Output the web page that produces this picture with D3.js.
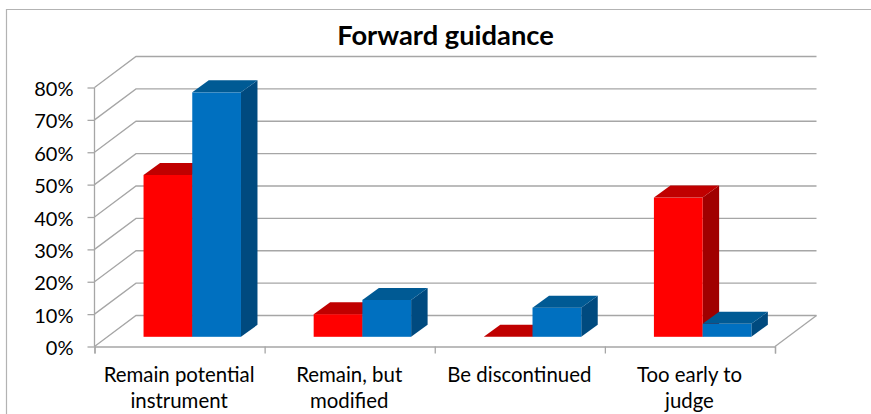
<!DOCTYPE html>
<html>
<head>
<meta charset="utf-8">
<script src="https://cdn.jsdelivr.net/npm/d3@7"></script>
<style>
  html, body { margin: 0; padding: 0; background: #fff; }
  text { font-family: Lato, "Open Sans", sans-serif; fill: #000; }
</style>
</head>
<body>
<div id="chart"></div>
<script>
const categories = [
  ['Remain potential', 'instrument'],
  ['Remain, but', 'modified'],
  ['Be discontinued'],
  ['Too early to', 'judge'],
];
const seriesNames = ['red', 'blue'];
const redValues = [0.5, 0.07, 0, 0.43];
const blueValues = [0.755, 0.114, 0.09, 0.04];
const yTicks = [0, 0.1, 0.2, 0.3, 0.4, 0.5, 0.6, 0.7, 0.8];

const width = 871,
  height = 414;
const margin = { top: 87.5, right: 96, bottom: 67.5, left: 94.5 };

// offset of the back wall from the front of the box
const wall = { dx: 41.5, dy: -31 };
// the bars stand part way into the floor
const barDepth = { dx: 16.5, dy: -12 };
const barShift = -9.7;

const faces = {
  red: { front: '#ff0000', top: '#c00000', side: '#a00000' },
  blue: { front: '#0070c0', top: '#005a94', side: '#004a7f' },
};

const svg = d3
  .select('#chart')
  .append('svg')
  .attr('width', width)
  .attr('height', height)
  .style('display', 'block');

// outer frame, runs off the right and bottom
svg
  .append('path')
  .attr('d', 'M6.5,' + height + 'V9.5H' + width)
  .attr('fill', 'none')
  .attr('stroke', '#b3b3b3')
  .attr('stroke-width', 1.2);

const x = d3
  .scaleBand()
  .domain(d3.range(categories.length))
  .range([margin.left, width - margin.right]);

const y = d3
  .scaleLinear()
  .domain([0, 0.8])
  .range([height - margin.bottom, margin.top]);

// two bars side by side, pushed right of the band centre because of the depth
const inner = d3
  .scaleBand()
  .domain(seriesNames)
  .range([12.7, x.bandwidth() + 12.7])
  .paddingOuter(0.746)
  .paddingInner(0);

const gridColor = '#a6a6a6';
const grid = svg.append('g').attr('fill', 'none').attr('stroke', gridColor).attr('stroke-width', 1.3);

// back wall lines and the diagonals on the side wall
grid
  .selectAll('.back')
  .data(yTicks)
  .enter()
  .append('path')
  .attr('class', 'back')
  .attr('d', d => {
    const x0 = margin.left + wall.dx;
    const x1 = width - margin.right + wall.dx;
    const yb = y(d) + wall.dy;
    return 'M' + margin.left + ',' + y(d) + 'L' + x0 + ',' + yb + 'H' + x1;
  });

// right edge of the floor
grid
  .append('path')
  .attr('d', 'M' + (width - margin.right) + ',' + y(0) + 'l' + wall.dx + ',' + wall.dy);

// y axis
const yAxis = svg
  .append('g')
  .attr('transform', 'translate(' + margin.left + ',0)')
  .call(d3.axisLeft(y).tickValues(yTicks).tickFormat(d3.format('.0%')).tickSize(7).tickPadding(14));

// x axis, ticks sit at the band edges so labels are added apart
const xAxis = svg
  .append('g')
  .attr('transform', 'translate(0,' + y(0) + ')')
  .call(
    d3
      .axisBottom(d3.scaleLinear().domain([0, 4]).range(x.range()))
      .tickValues([0, 1, 2, 3, 4])
      .tickFormat('')
      .tickSize(7)
      .tickSizeOuter(7)
  );

[yAxis, xAxis].forEach(a => {
  a.selectAll('path, line').attr('stroke', gridColor).attr('stroke-width', 1.3);
});
yAxis.select('.domain').attr('d', 'M0,' + y(0.8) + 'V' + y(0));
yAxis.selectAll('text').style('font-size', '20px').attr('dy', '0.4em');

// bars
function barFaces(g, value, name, i) {
  const x0 = x(i) + inner(name);
  const x1 = x0 + inner.bandwidth();
  const y0 = y(0) + barShift;
  const y1 = y(value) + barShift;
  const dx = barDepth.dx,
    dy = barDepth.dy;
  const c = faces[name];
  if (value > 0) {
    g.append('path')
      .attr('d', `M${x1},${y0}L${x1 + dx},${y0 + dy}V${y1 + dy}L${x1},${y1}Z`)
      .attr('fill', c.side);
    g.append('rect')
      .attr('x', x0)
      .attr('y', y1)
      .attr('width', x1 - x0)
      .attr('height', y0 - y1)
      .attr('fill', c.front);
  }
  g.append('path')
    .attr('d', `M${x0},${y1}L${x0 + dx},${y1 + dy}H${x1 + dx}L${x1},${y1}Z`)
    .attr('fill', c.top);
}

const bars = svg.append('g');
categories.forEach((c, i) => {
  const g = bars.append('g');
  barFaces(g, redValues[i], 'red', i);
  barFaces(g, blueValues[i], 'blue', i);
});

// category labels
svg
  .append('g')
  .selectAll('text')
  .data(categories)
  .enter()
  .append('text')
  .attr('text-anchor', 'middle')
  .style('font-size', '20.4px')
  .each(function (lines, i) {
    d3.select(this)
      .selectAll('tspan')
      .data(lines)
      .enter()
      .append('tspan')
      .attr('x', x(i) + x.bandwidth() / 2 - 0.5)
      .attr('y', (d, j) => 381.5 + j * 26.5)
      .text(d => d);
  });

svg
  .append('text')
  .attr('x', 445.5)
  .attr('y', 45)
  .attr('text-anchor', 'middle')
  .style('font-size', '27.3px')
  .style('font-weight', 'bold')
  .text('Forward guidance');
</script>
</body>
</html>
